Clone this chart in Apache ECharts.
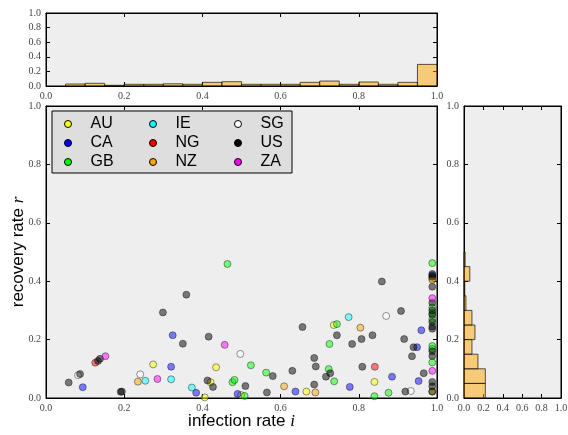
<!DOCTYPE html>
<html>
<head>
<meta charset="utf-8">
<script src="https://cdn.jsdelivr.net/npm/echarts@6/dist/echarts.min.js"></script>
<style>
  html, body { margin: 0; padding: 0; background: #fff; }
  #main { width: 568px; height: 435px; }
</style>
</head>
<body>
<div id="main"></div>
<script>
// scatter points per country: [infection rate, recovery rate]
const auPts = [[0.274,0.115],[0.406,0.002],[0.421,0.054],[0.435,0.105],[0.499,0.010],[0.666,0.022],[0.736,0.250],[0.840,0.055],[0.988,0.410],[0.988,0.022]];
const caPts = [[0.094,0.037],[0.320,0.107],[0.324,0.215],[0.384,0.018],[0.490,0.014],[0.638,0.022],[0.777,0.038],[0.885,0.073],[0.949,0.174],[0.953,0.058],[0.960,0.232],[0.988,0.420]];
const gbPts = [[0.464,0.459],[0.477,0.054],[0.482,0.062],[0.508,0.007],[0.524,0.112],[0.563,0.087],[0.723,0.099],[0.725,0.185],[0.737,0.057],[0.744,0.253],[0.840,0.006],[0.876,0.018],[0.988,0.462],[0.988,0.310],[0.988,0.290],[0.988,0.270],[0.988,0.178],[0.988,0.168],[0.988,0.122]];
const iePts = [[0.254,0.059],[0.320,0.064],[0.373,0.036],[0.774,0.277]];
const ngPts = [[0.126,0.121],[0.841,0.107]];
const nzPts = [[0.235,0.056],[0.609,0.040],[0.689,0.019],[0.804,0.241],[0.988,0.405]];
const sgPts = [[0.082,0.078],[0.241,0.081],[0.497,0.151],[0.870,0.281],[0.933,0.024]];
const usPts = [[0.058,0.053],[0.087,0.082],[0.133,0.127],[0.138,0.134],[0.191,0.021],[0.194,0.022],[0.299,0.293],[0.350,0.186],
  [0.359,0.354],[0.416,0.210],[0.413,0.060],[0.427,0.038],[0.510,0.041],[0.565,0.019],[0.580,0.075],[0.630,0.093],
  [0.656,0.243],[0.686,0.046],[0.686,0.137],[0.690,0.108],[0.716,0.073],[0.727,0.085],[0.744,0.215],[0.783,0.185],
  [0.807,0.202],[0.809,0.107],[0.835,0.215],[0.859,0.399],[0.908,0.298],[0.916,0.202],[0.919,0.022],[0.936,0.143],
  [0.940,0.174],[0.966,0.085],[0.988,0.425],[0.988,0.415],[0.988,0.381],[0.988,0.326],[0.988,0.300],[0.988,0.285],
  [0.988,0.260],[0.988,0.245],[0.988,0.237],[0.988,0.160],[0.988,0.144],[0.988,0.055],[0.988,0.040],[0.988,0.022]];
const zaPts = [[0.152,0.143],[0.285,0.065],[0.457,0.182],[0.988,0.342],[0.988,0.093]];

const countries = ['AU', 'CA', 'GB', 'IE', 'NG', 'NZ', 'SG', 'US', 'ZA'];
const countryPts = [auPts, caPts, gbPts, iePts, ngPts, nzPts, sgPts, usPts, zaPts];
const countryColors = ['#ffff00', '#0000ff', '#00ff00', '#00ffff', '#ff0000', '#ffa500', '#ffffff', '#000000', '#ff00ff'];

// marginal histograms: bin start, bin end, fraction
const binStarts = [0.00,0.05,0.10,0.15,0.20,0.25,0.30,0.35,0.40,0.45,0.50,0.55,0.60,0.65,0.70,0.75,0.80,0.85,0.90,0.95];
const binEnds   = [0.05,0.10,0.15,0.20,0.25,0.30,0.35,0.40,0.45,0.50,0.55,0.60,0.65,0.70,0.75,0.80,0.85,0.90,0.95,1.00];
const infectHist = [0,0.027,0.037,0.010,0.023,0.023,0.030,0.023,0.050,0.059,0.023,0.023,0.023,0.050,0.068,0.023,0.055,0.023,0.050,0.296];
const recoverHist = [0.22,0.22,0.144,0.082,0.113,0.082,0.020,0.008,0.060,0.012,0,0,0,0,0,0,0,0,0,0];

const tickFont = 'Liberation Serif';
const sansFont = 'Liberation Sans';

function makeAxis(gridIndex, position, labels, extra) {
  return Object.assign({
    type: 'value',
    gridIndex: gridIndex,
    position: position,
    min: 0,
    max: 1,
    interval: 0.2,
    axisLine: { show: true, onZero: false, lineStyle: { color: '#000', width: 1 } },
    axisTick: { show: true, inside: true, length: 4, lineStyle: { color: '#000' } },
    splitLine: { show: false },
    axisLabel: {
      show: labels,
      fontFamily: tickFont,
      fontSize: 10,
      color: '#444',
      margin: 5,
      formatter: v => v.toFixed(1)
    }
  }, extra || {});
}

function histData(vals) {
  const out = [];
  vals.forEach((v, i) => { if (v > 0) out.push([binStarts[i], binEnds[i], v]); });
  return out;
}

const barStyle = { fill: 'rgba(255,165,0,0.5)', stroke: 'rgba(0,0,0,0.65)', lineWidth: 1 };

const chart = echarts.init(document.getElementById('main'));

const series = [
  {
    type: 'custom',
    xAxisIndex: 0,
    yAxisIndex: 0,
    data: histData(infectHist),
    encode: { x: [0, 1], y: 2 },
    renderItem: function (params, api) {
      const a = api.coord([api.value(0), 0]);
      const b = api.coord([api.value(1), api.value(2)]);
      return { type: 'rect', shape: { x: a[0], y: b[1], width: b[0] - a[0], height: a[1] - b[1] }, style: barStyle };
    }
  },
  {
    type: 'custom',
    xAxisIndex: 4,
    yAxisIndex: 4,
    data: histData(recoverHist),
    encode: { y: [0, 1], x: 2 },
    renderItem: function (params, api) {
      const a = api.coord([0, api.value(0)]);
      const b = api.coord([api.value(2), api.value(1)]);
      return { type: 'rect', shape: { x: a[0], y: b[1], width: b[0] - a[0], height: a[1] - b[1] }, style: barStyle };
    }
  }
];

countries.forEach((name, i) => {
  series.push({
    name: name,
    type: 'scatter',
    xAxisIndex: 2,
    yAxisIndex: 2,
    symbol: 'circle',
    symbolSize: 7,
    data: countryPts[i],
    itemStyle: { color: countryColors[i], opacity: 0.5, borderColor: '#000', borderWidth: 0.8 },
    emphasis: { disabled: true }
  });
});

function legendCol(names, left) {
  return {
    data: names,
    orient: 'vertical',
    left: left,
    top: 111,
    itemWidth: 35,
    itemHeight: 7,
    itemGap: 3,
    icon: 'circle',
    z: 6,
    selectedMode: false,
    itemStyle: { opacity: 1, borderColor: '#000', borderWidth: 1 },
    textStyle: { fontFamily: sansFont, fontSize: 16, color: '#000' }
  };
}

const gridBase = { show: true, backgroundColor: '#eeeeee', borderColor: '#000', borderWidth: 1, outerBoundsMode: 'none', containLabel: false };

const nameRich = {
  a: { fontFamily: sansFont, fontSize: 17, color: '#000' },
  b: { fontFamily: tickFont, fontStyle: 'italic', fontSize: 17, color: '#000' }
};

chart.setOption({
  animation: false,
  backgroundColor: '#fff',
  grid: [
    Object.assign({ left: 46, top: 13, width: 391, height: 73 }, gridBase),
    Object.assign({ left: 46, top: 106, width: 391, height: 292 }, gridBase),
    Object.assign({ left: 464, top: 106, width: 97, height: 292 }, gridBase)
  ],
  xAxis: [
    makeAxis(0, 'bottom', true),
    makeAxis(0, 'top', false),
    makeAxis(1, 'bottom', true, {
      name: '{a|infection rate }{b|i}',
      nameLocation: 'middle',
      nameGap: 15,
      nameMoveOverlap: false,
      nameTextStyle: { rich: nameRich }
    }),
    makeAxis(1, 'top', false),
    makeAxis(2, 'bottom', true),
    makeAxis(2, 'top', false)
  ],
  yAxis: [
    makeAxis(0, 'left', true),
    makeAxis(0, 'right', false),
    makeAxis(1, 'left', true, {
      name: '{a|recovery rate }{b|r}',
      nameLocation: 'middle',
      nameGap: 19,
      nameMoveOverlap: false,
      nameTextStyle: { rich: nameRich }
    }),
    makeAxis(1, 'right', false),
    makeAxis(2, 'left', true),
    makeAxis(2, 'right', false)
  ],
  legend: [
    legendCol(['AU', 'CA', 'GB'], 59),
    legendCol(['IE', 'NG', 'NZ'], 144),
    legendCol(['SG', 'US', 'ZA'], 229)
  ],
  graphic: [
    {
      type: 'rect',
      z: 5,
      shape: { x: 52, y: 111, width: 240, height: 62 },
      style: { fill: '#dedede', stroke: '#000', lineWidth: 1 }
    }
  ],
  series: series
});
</script>
</body>
</html>
